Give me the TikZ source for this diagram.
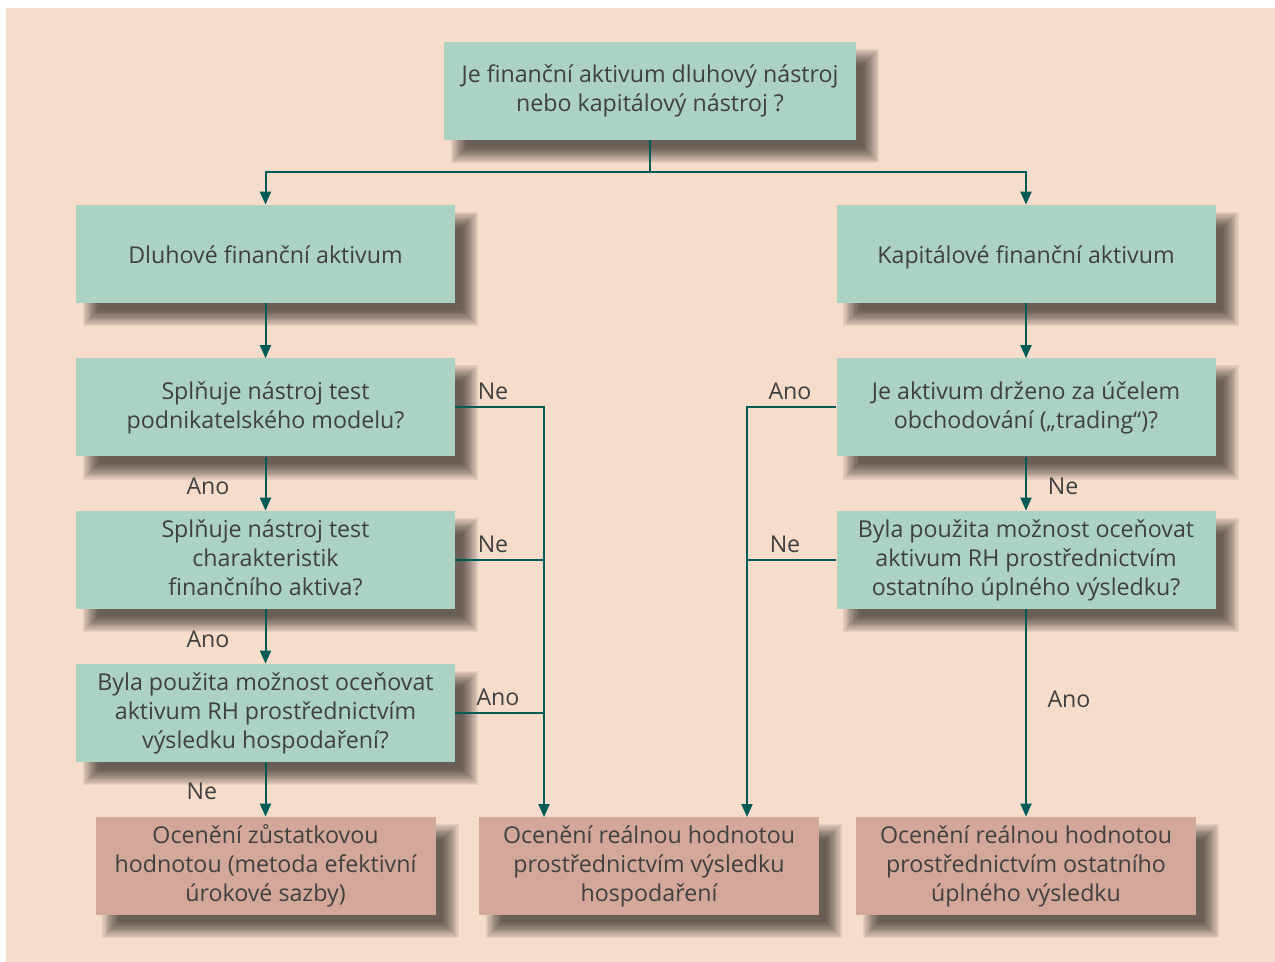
\documentclass[tikz,border=0pt]{standalone}
\usepackage{fontspec}
\setmainfont{Open Sans}
\usetikzlibrary{arrows.meta}
\definecolor{bgc}{HTML}{F5DCCB}
\definecolor{gfill}{HTML}{ABD2C3}
\definecolor{pfill}{HTML}{D3A89A}
\definecolor{lc}{HTML}{005A55}
\definecolor{tc}{HTML}{404040}
\pgfdeclarelayer{back}
\pgfdeclarelayer{shad}
\pgfsetlayers{back,shad,main}
\tikzset{
  box/.style={rectangle, inner sep=0pt, minimum height=49pt, align=center, text=tc,
    font=\fontsize{11.6}{14.5}\selectfont,
    execute at begin node={\rule{0pt}{12.3pt}},
    execute at end node={\rule[-2.7pt]{0pt}{2.7pt}}},
  gbox/.style={box, fill=gfill, minimum width=189.5pt},
  pbox/.style={box, fill=pfill, minimum width=170pt},
  conn/.style={draw=lc, line width=1pt},
  arr/.style={conn, -{Triangle[length=6.5pt,width=5.5pt]}},
  lbl/.style={text=tc, font=\fontsize{11.6}{14}\selectfont, inner sep=0pt},
  shadowpiece/.style={fill=black, fill opacity=0.055, draw=none}
}
\newcommand\dropshadow[1]{%
  \foreach \k in {0,...,13}{%
    \pgfmathsetmacro\dd{-8+\k*16/13}%
    \path[shadowpiece] ([shift={(15+\dd,15+\dd)}]#1.north west) rectangle ([shift={(15-\dd,15-\dd)}]#1.south east);
  }%
}
\begin{document}
\begin{tikzpicture}[x=0.5pt,y=-0.5pt]
\useasboundingbox (0,0) rectangle (1275,962);
\begin{pgfonlayer}{back}
\fill[bgc] (6,8) rectangle (1275,962);
\end{pgfonlayer}
\node[gbox, minimum width=206pt] (q0) at (650,91) {Je finanční aktivum dluhový nástroj\\nebo kapitálový nástroj ?};
\node[gbox] (debt) at (265.5,254) {Dluhové finanční aktivum};
\node[gbox] (eq) at (1026,254) {Kapitálové finanční aktivum};
\node[gbox] (s1) at (265.5,407.5) {Splňuje nástroj test\\podnikatelského modelu?};
\node[gbox] (ob) at (1026,407.5) {Je aktivum drženo za účelem\\obchodování („trading“)?};
\node[gbox] (s2) at (265.5,560) {Splňuje nástroj test\\charakteristik\\finančního aktiva?};
\node[gbox] (br) at (1026,560) {Byla použita možnost oceňovat\\aktivum RH prostřednictvím\\ostatního úplného výsledku?};
\node[gbox] (bl) at (265.5,713) {Byla použita možnost oceňovat\\aktivum RH prostřednictvím\\výsledku hospodaření?};
\node[pbox] (amort) at (265.5,866) {Ocenění zůstatkovou\\hodnotou (metoda efektivní\\úrokové sazby)};
\node[pbox] (fvpl) at (649,866) {Ocenění reálnou hodnotou\\prostřednictvím výsledku\\hospodaření};
\node[pbox] (fvoci) at (1026,866) {Ocenění reálnou hodnotou\\prostřednictvím ostatního\\úplného výsledku};
\begin{pgfonlayer}{shad}
\foreach \n in {q0,debt,eq,s1,ob,s2,br,bl,amort,fvpl,fvoci}{\dropshadow{\n}}
\end{pgfonlayer}
% connectors
\draw[conn] (q0.south) -- ++(0,32) coordinate (j0);
\draw[arr] (j0) -| (debt.north);
\draw[arr] (j0) -| (eq.north);
\draw[arr] (debt.south) -- (s1.north);
\draw[arr] (s1.south) -- (s2.north);
\draw[arr] (s2.south) -- (bl.north);
\draw[arr] (bl.south) -- (amort.north);
\draw[arr] (eq.south) -- (ob.north);
\draw[arr] (ob.south) -- (br.north);
\draw[arr] (br.south) -- (fvoci.north);
\coordinate (lb) at (544,817);
\coordinate (rb) at (747,817);
\draw[arr] (s1.east) -| (lb);
\draw[conn] (s2.east) -- (s2.east -| lb);
\draw[conn] (bl.east) -- (bl.east -| lb);
\draw[arr] (ob.west) -| (rb);
\draw[conn] (br.west) -- (br.west -| rb);
% labels
\node[lbl] (l1) at (493,391) {Ne};
\node[lbl] (l2) at (493,544) {Ne};
\node[lbl] (l3) at (498,697) {Ano};
\node[lbl] (l4) at (790,391) {Ano};
\node[lbl] (l5) at (785,544) {Ne};
\node[lbl] (l6) at (1063,486) {Ne};
\node[lbl] (l7) at (1069,699) {Ano};
\node[lbl] (l8) at (208,486) {Ano};
\node[lbl] (l9) at (208,639) {Ano};
\node[lbl] (l10) at (202,791) {Ne};
\end{tikzpicture}
\end{document}
